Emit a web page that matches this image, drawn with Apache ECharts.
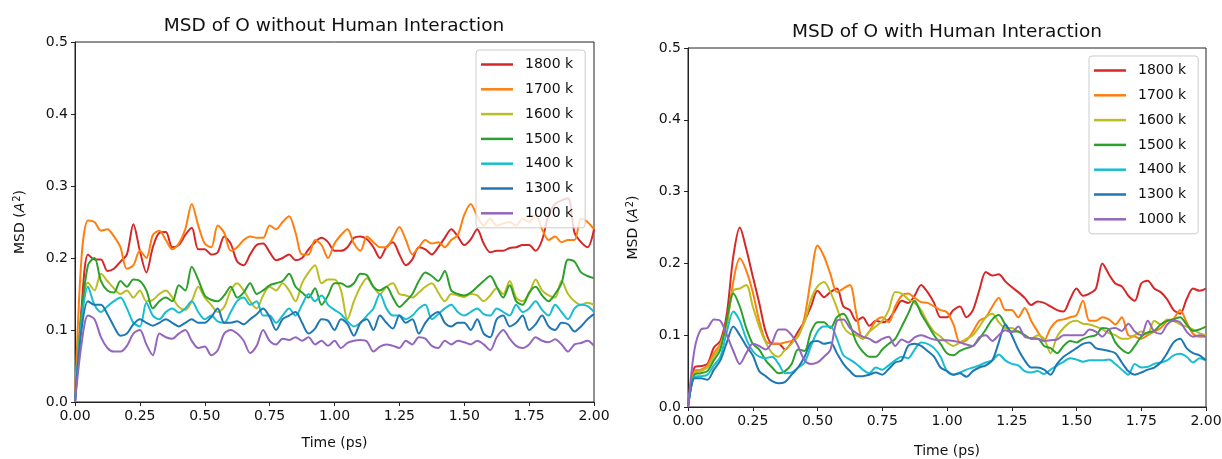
<!DOCTYPE html>
<html>
<head>
<meta charset="utf-8">
<title>MSD of O</title>
<script src="https://cdn.jsdelivr.net/npm/echarts@6/dist/echarts.min.js"></script>
<style>
  html, body { margin: 0; padding: 0; background: #fff; }
  #chart { width: 1222px; height: 459px; }
</style>
</head>
<body>
<div id="chart"></div>
<script>
// time axis, 0.00 .. 2.00 ps every 0.025
const times = []
for (let i = 0; i <= 80; i++) times.push(+(i * 0.025).toFixed(3))

const seriesNames = ['1800 k', '1700 k', '1600 k', '1500 k', '1400 k', '1300 k', '1000 k']
const colors = ['#d62728', '#ff7f0e', '#bcbd22', '#2ca02c', '#17becf', '#1f77b4', '#9467bd']
const xTicks = ['0.00', '0.25', '0.50', '0.75', '1.00', '1.25', '1.50', '1.75', '2.00']
const yTicks = ['0.0', '0.1', '0.2', '0.3', '0.4', '0.5']

// MSD of O without human interaction
const noHuman1800 = [0, 0.13, 0.205, 0.198, 0.198, 0.182, 0.185, 0.195, 0.205, 0.247, 0.21, 0.18, 0.215, 0.235, 0.236, 0.215, 0.218, 0.232, 0.242, 0.212, 0.212, 0.205, 0.208, 0.23, 0.22, 0.195, 0.19, 0.205, 0.218, 0.22, 0.208, 0.197, 0.2, 0.205, 0.197, 0.2, 0.212, 0.222, 0.228, 0.222, 0.21,
  0.21, 0.215, 0.228, 0.23, 0.226, 0.215, 0.2, 0.215, 0.222, 0.205, 0.19, 0.198, 0.215, 0.212, 0.205, 0.215, 0.228, 0.24, 0.23, 0.218, 0.226, 0.24, 0.22, 0.208, 0.21, 0.21, 0.214, 0.215, 0.218, 0.218, 0.21, 0.225, 0.26, 0.275, 0.28, 0.283, 0.235, 0.222, 0.215, 0.24]
const noHuman1700 = [0, 0.2, 0.252, 0.25, 0.238, 0.24, 0.23, 0.215, 0.185, 0.19, 0.21, 0.2, 0.232, 0.238, 0.225, 0.212, 0.22, 0.24, 0.275, 0.245, 0.22, 0.215, 0.245, 0.235, 0.21, 0.215, 0.225, 0.23, 0.228, 0.228, 0.245, 0.24, 0.25, 0.258, 0.235, 0.205, 0.205, 0.225, 0.218, 0.2, 0.22,
  0.232, 0.24, 0.22, 0.21, 0.23, 0.222, 0.215, 0.215, 0.228, 0.243, 0.225, 0.205, 0.215, 0.225, 0.22, 0.222, 0.215, 0.225, 0.232, 0.26, 0.275, 0.258, 0.245, 0.255, 0.245, 0.248, 0.25, 0.245, 0.255, 0.25, 0.26, 0.24, 0.225, 0.23, 0.222, 0.225, 0.225, 0.255, 0.25, 0.24]
const noHuman1600 = [0, 0.12, 0.166, 0.155, 0.178, 0.168, 0.158, 0.15, 0.155, 0.145, 0.155, 0.14, 0.142, 0.15, 0.155, 0.145, 0.132, 0.128, 0.14, 0.16, 0.145, 0.135, 0.125, 0.132, 0.155, 0.165, 0.155, 0.14, 0.13, 0.148, 0.16, 0.155, 0.165, 0.155, 0.14, 0.165, 0.18, 0.19, 0.165, 0.17, 0.17,
  0.155, 0.115, 0.14, 0.16, 0.172, 0.16, 0.15, 0.16, 0.165, 0.15, 0.148, 0.145, 0.152, 0.16, 0.165, 0.152, 0.14, 0.15, 0.148, 0.146, 0.15, 0.148, 0.14, 0.148, 0.158, 0.15, 0.168, 0.145, 0.14, 0.15, 0.17, 0.155, 0.148, 0.145, 0.168, 0.15, 0.14, 0.135, 0.138, 0.135]
const noHuman1500 = [0, 0.12, 0.19, 0.2, 0.168, 0.155, 0.152, 0.168, 0.16, 0.17, 0.168, 0.155, 0.13, 0.14, 0.145, 0.14, 0.162, 0.155, 0.188, 0.17, 0.148, 0.142, 0.14, 0.148, 0.16, 0.145, 0.152, 0.165, 0.15, 0.155, 0.162, 0.165, 0.168, 0.178, 0.16, 0.152, 0.145, 0.158, 0.135, 0.148, 0.165,
  0.165, 0.16, 0.165, 0.178, 0.176, 0.16, 0.155, 0.16, 0.145, 0.132, 0.14, 0.15, 0.168, 0.18, 0.175, 0.168, 0.182, 0.155, 0.15, 0.148, 0.152, 0.16, 0.168, 0.175, 0.16, 0.145, 0.162, 0.14, 0.135, 0.152, 0.16, 0.148, 0.14, 0.15, 0.165, 0.198, 0.195, 0.18, 0.175, 0.172]
const noHuman1400 = [0, 0.11, 0.16, 0.135, 0.125, 0.133, 0.14, 0.145, 0.13, 0.11, 0.105, 0.138, 0.12, 0.115, 0.125, 0.13, 0.124, 0.13, 0.14, 0.125, 0.115, 0.12, 0.112, 0.11, 0.125, 0.14, 0.145, 0.135, 0.14, 0.12, 0.12, 0.11, 0.12, 0.13, 0.12, 0.135, 0.15, 0.14, 0.148, 0.135, 0.128,
  0.122, 0.112, 0.105, 0.11, 0.12, 0.13, 0.15, 0.13, 0.12, 0.12, 0.115, 0.12, 0.13, 0.135, 0.115, 0.122, 0.13, 0.135, 0.125, 0.12, 0.125, 0.13, 0.122, 0.12, 0.13, 0.125, 0.12, 0.135, 0.125, 0.13, 0.14, 0.128, 0.12, 0.135, 0.125, 0.115, 0.13, 0.135, 0.133, 0.125]
const noHuman1300 = [0, 0.1, 0.14, 0.135, 0.135, 0.122, 0.105, 0.092, 0.095, 0.108, 0.115, 0.11, 0.106, 0.11, 0.115, 0.11, 0.105, 0.11, 0.115, 0.11, 0.11, 0.118, 0.13, 0.11, 0.11, 0.112, 0.108, 0.115, 0.122, 0.13, 0.118, 0.1, 0.115, 0.12, 0.125, 0.11, 0.095, 0.102, 0.115, 0.113, 0.1,
  0.115, 0.108, 0.092, 0.11, 0.115, 0.1, 0.12, 0.11, 0.102, 0.12, 0.11, 0.115, 0.095, 0.11, 0.12, 0.125, 0.11, 0.105, 0.11, 0.11, 0.1, 0.115, 0.095, 0.09, 0.115, 0.12, 0.105, 0.11, 0.12, 0.1, 0.108, 0.12, 0.105, 0.1, 0.11, 0.108, 0.098, 0.105, 0.115, 0.122]
const noHuman1000 = [0, 0.08, 0.12, 0.115, 0.09, 0.075, 0.07, 0.07, 0.078, 0.095, 0.1, 0.08, 0.065, 0.095, 0.09, 0.088, 0.095, 0.1, 0.085, 0.075, 0.077, 0.065, 0.072, 0.095, 0.1, 0.095, 0.085, 0.068, 0.078, 0.1, 0.085, 0.08, 0.088, 0.086, 0.09, 0.085, 0.09, 0.08, 0.085, 0.078, 0.085,
  0.075, 0.082, 0.085, 0.086, 0.084, 0.07, 0.077, 0.08, 0.078, 0.075, 0.085, 0.08, 0.09, 0.088, 0.078, 0.075, 0.085, 0.08, 0.085, 0.083, 0.08, 0.085, 0.08, 0.072, 0.09, 0.1, 0.088, 0.078, 0.075, 0.08, 0.09, 0.085, 0.083, 0.087, 0.08, 0.07, 0.08, 0.082, 0.085, 0.078]

// MSD of O with human interaction
const human1800 = [0, 0.055, 0.057, 0.06, 0.083, 0.092, 0.13, 0.21, 0.25, 0.22, 0.182, 0.145, 0.105, 0.088, 0.088, 0.08, 0.09, 0.105, 0.12, 0.14, 0.162, 0.153, 0.16, 0.165, 0.14, 0.135, 0.12, 0.125, 0.113, 0.12, 0.118, 0.122, 0.135, 0.148, 0.145, 0.155, 0.17, 0.16, 0.145, 0.125, 0.125,
  0.135, 0.14, 0.125, 0.135, 0.163, 0.188, 0.183, 0.185, 0.175, 0.167, 0.16, 0.152, 0.142, 0.147, 0.145, 0.14, 0.135, 0.133, 0.15, 0.165, 0.155, 0.158, 0.165, 0.2, 0.185, 0.172, 0.168, 0.155, 0.148, 0.172, 0.176, 0.165, 0.16, 0.15, 0.135, 0.13, 0.15, 0.165, 0.162, 0.165]
const human1700 = [0, 0.05, 0.052, 0.058, 0.075, 0.088, 0.115, 0.175, 0.207, 0.19, 0.16, 0.12, 0.092, 0.088, 0.088, 0.09, 0.092, 0.098, 0.125, 0.18, 0.225, 0.21, 0.185, 0.16, 0.165, 0.17, 0.13, 0.095, 0.105, 0.12, 0.125, 0.118, 0.14, 0.155, 0.158, 0.152, 0.146, 0.145, 0.14, 0.135, 0.132,
  0.115, 0.09, 0.093, 0.105, 0.12, 0.125, 0.14, 0.152, 0.135, 0.135, 0.125, 0.138, 0.12, 0.105, 0.093, 0.11, 0.12, 0.122, 0.125, 0.128, 0.148, 0.12, 0.12, 0.125, 0.122, 0.115, 0.125, 0.1, 0.098, 0.095, 0.1, 0.105, 0.11, 0.12, 0.123, 0.135, 0.118, 0.102, 0.098, 0.098]
const human1600 = [0, 0.047, 0.05, 0.055, 0.07, 0.085, 0.12, 0.162, 0.165, 0.17, 0.14, 0.112, 0.09, 0.075, 0.07, 0.08, 0.088, 0.1, 0.118, 0.15, 0.168, 0.174, 0.16, 0.138, 0.112, 0.102, 0.1, 0.095, 0.105, 0.112, 0.12, 0.135, 0.16, 0.158, 0.15, 0.145, 0.135, 0.118, 0.105, 0.098, 0.09,
  0.085, 0.09, 0.095, 0.1, 0.112, 0.125, 0.13, 0.118, 0.11, 0.11, 0.105, 0.1, 0.095, 0.1, 0.095, 0.075, 0.098, 0.11, 0.118, 0.12, 0.116, 0.115, 0.112, 0.108, 0.103, 0.1, 0.095, 0.095, 0.1, 0.105, 0.102, 0.12, 0.115, 0.122, 0.12, 0.115, 0.112, 0.108, 0.103, 0.1]
const human1500 = [0, 0.045, 0.047, 0.05, 0.065, 0.08, 0.122, 0.158, 0.14, 0.11, 0.088, 0.08, 0.065, 0.055, 0.047, 0.05, 0.06, 0.08, 0.078, 0.105, 0.118, 0.118, 0.11, 0.125, 0.13, 0.115, 0.09, 0.077, 0.07, 0.07, 0.08, 0.088, 0.095, 0.112, 0.13, 0.148, 0.13, 0.115, 0.1, 0.088, 0.075,
  0.072, 0.078, 0.082, 0.085, 0.095, 0.108, 0.122, 0.128, 0.115, 0.105, 0.105, 0.1, 0.095, 0.095, 0.085, 0.082, 0.075, 0.085, 0.092, 0.09, 0.095, 0.098, 0.1, 0.11, 0.108, 0.09, 0.08, 0.075, 0.085, 0.098, 0.104, 0.106, 0.115, 0.12, 0.122, 0.125, 0.115, 0.106, 0.108, 0.112]
const human1400 = [0, 0.042, 0.043, 0.045, 0.058, 0.07, 0.105, 0.133, 0.12, 0.095, 0.078, 0.07, 0.068, 0.07, 0.06, 0.047, 0.048, 0.055, 0.062, 0.085, 0.105, 0.112, 0.112, 0.095, 0.072, 0.066, 0.06, 0.052, 0.047, 0.055, 0.052, 0.058, 0.065, 0.07, 0.068, 0.08, 0.09, 0.088, 0.082, 0.07, 0.05,
  0.045, 0.048, 0.052, 0.055, 0.058, 0.062, 0.065, 0.073, 0.065, 0.06, 0.058, 0.05, 0.048, 0.05, 0.046, 0.052, 0.058, 0.063, 0.068, 0.066, 0.063, 0.065, 0.065, 0.065, 0.066, 0.06, 0.052, 0.045, 0.06, 0.055, 0.056, 0.06, 0.062, 0.065, 0.072, 0.074, 0.07, 0.062, 0.068, 0.065]
const human1300 = [0, 0.04, 0.04, 0.038, 0.052, 0.065, 0.09, 0.112, 0.1, 0.085, 0.072, 0.05, 0.043, 0.036, 0.033, 0.035, 0.045, 0.055, 0.07, 0.09, 0.092, 0.088, 0.09, 0.075, 0.06, 0.05, 0.043, 0.043, 0.045, 0.048, 0.045, 0.053, 0.062, 0.065, 0.085, 0.088, 0.085, 0.078, 0.07, 0.055, 0.05,
  0.045, 0.047, 0.042, 0.05, 0.055, 0.058, 0.065, 0.09, 0.115, 0.1, 0.08, 0.065, 0.055, 0.055, 0.052, 0.045, 0.06, 0.07, 0.076, 0.082, 0.088, 0.09, 0.082, 0.08, 0.078, 0.075, 0.062, 0.05, 0.045, 0.048, 0.052, 0.055, 0.062, 0.075, 0.09, 0.095, 0.082, 0.075, 0.072, 0.065]
const human1000 = [0, 0.08, 0.108, 0.11, 0.122, 0.12, 0.1, 0.078, 0.06, 0.075, 0.088, 0.085, 0.08, 0.09, 0.108, 0.108, 0.1, 0.085, 0.065, 0.06, 0.062, 0.07, 0.08, 0.12, 0.122, 0.11, 0.103, 0.098, 0.095, 0.09, 0.095, 0.098, 0.085, 0.094, 0.09, 0.097, 0.1, 0.097, 0.094, 0.093, 0.093,
  0.092, 0.09, 0.087, 0.085, 0.097, 0.1, 0.092, 0.1, 0.107, 0.104, 0.112, 0.098, 0.096, 0.095, 0.092, 0.093, 0.094, 0.1, 0.1, 0.1, 0.1, 0.108, 0.105, 0.098, 0.108, 0.11, 0.106, 0.116, 0.105, 0.1, 0.12, 0.105, 0.102, 0.115, 0.12, 0.118, 0.105, 0.098, 0.1, 0.098]

const noHumanData = [noHuman1800, noHuman1700, noHuman1600, noHuman1500, noHuman1400, noHuman1300, noHuman1000]
const humanData = [human1800, human1700, human1600, human1500, human1400, human1300, human1000]

const FONT = 'DejaVu Sans'
const TEXT = '#111'

const chart = echarts.init(document.getElementById('chart'), null, { renderer: 'canvas' })

const makeXAxis = (gridIndex, gap) => ({
  type: 'value',
  gridIndex,
  min: 0,
  max: 2,
  interval: 0.25,
  name: 'Time (ps)',
  nameLocation: 'middle',
  nameGap: gap,
  nameTextStyle: { fontFamily: FONT, fontSize: 14, color: TEXT },
  axisLine: { show: true, onZero: false, lineStyle: { color: '#222', width: 1 } },
  axisTick: { show: true, length: 4, lineStyle: { color: '#222' } },
  axisLabel: {
    margin: 7, fontFamily: FONT, fontSize: 14, color: TEXT,
    formatter: v => xTicks[Math.round(v / 0.25)]
  },
  splitLine: { show: false }
})

const makeYAxis = (gridIndex) => ({
  type: 'value',
  gridIndex,
  min: 0,
  max: 0.5,
  interval: 0.1,
  name: 'MSD ({i|A}{sup|2})',
  nameLocation: 'middle',
  nameRotate: 90,
  nameGap: 46,
  nameTextStyle: {
    fontFamily: FONT, fontSize: 14, color: TEXT,
    rich: {
      i: { fontFamily: FONT, fontSize: 14, fontStyle: 'italic', color: TEXT },
      sup: { fontFamily: FONT, fontSize: 10, color: TEXT, verticalAlign: 'top', padding: [0, 0, 7, 1] }
    }
  },
  axisLine: { show: true, lineStyle: { color: '#222', width: 1 } },
  axisTick: { show: true, length: 4, lineStyle: { color: '#222' } },
  axisLabel: {
    margin: 7, fontFamily: FONT, fontSize: 14, color: TEXT,
    formatter: v => yTicks[Math.round(v * 10)]
  },
  splitLine: { show: false }
})

const makeLegend = (left, top) => ({
  orient: 'vertical',
  left,
  top,
  data: seriesNames,
  icon: 'rect',
  itemWidth: 32,
  itemHeight: 2.5,
  itemGap: 10.8,
  padding: [7.5, 12, 7.5, 5],
  backgroundColor: 'rgba(255,255,255,0.8)',
  borderColor: '#cccccc',
  borderWidth: 1,
  borderRadius: 3,
  selectedMode: false,
  textStyle: { fontFamily: FONT, fontSize: 14, color: TEXT, lineHeight: 14, padding: [0, 0, 0, 7] }
})

const buildSeries = (dataArr, gridIndex) => dataArr.map((vals, idx) => ({
  name: seriesNames[idx],
  type: 'line',
  xAxisIndex: gridIndex,
  yAxisIndex: gridIndex,
  data: times.map((t, i) => [t, vals[i]]),
  showSymbol: false,
  symbol: 'none',
  smooth: 0.3,
  lineStyle: { color: colors[idx], width: 2 },
  itemStyle: { color: colors[idx] },
  emphasis: { disabled: true },
  animation: false
}))

const option = {
  backgroundColor: '#fff',
  animation: false,
  color: colors,
  grid: [
    { left: 75, top: 42, width: 519, height: 360, outerBoundsMode: 'none', show: true, borderColor: '#222', borderWidth: 1, backgroundColor: 'transparent' },
    { left: 688, top: 48, width: 518, height: 359, outerBoundsMode: 'none', show: true, borderColor: '#222', borderWidth: 1, backgroundColor: 'transparent' }
  ],
  xAxis: [makeXAxis(0, 34), makeXAxis(1, 37)],
  yAxis: [makeYAxis(0), makeYAxis(1)],
  legend: [makeLegend(476, 50), makeLegend(1089, 56)],
  graphic: [
    {
      type: 'text', x: 334, y: 26,
      style: { text: 'MSD of O without Human Interaction', fontFamily: FONT, fontSize: 18.5, fill: TEXT, textAlign: 'center', textVerticalAlign: 'middle' }
    },
    {
      type: 'text', x: 947, y: 32,
      style: { text: 'MSD of O with Human Interaction', fontFamily: FONT, fontSize: 18.5, fill: TEXT, textAlign: 'center', textVerticalAlign: 'middle' }
    }
  ],
  series: [...buildSeries(noHumanData, 0), ...buildSeries(humanData, 1)]
}

chart.setOption(option)
</script>
</body>
</html>
